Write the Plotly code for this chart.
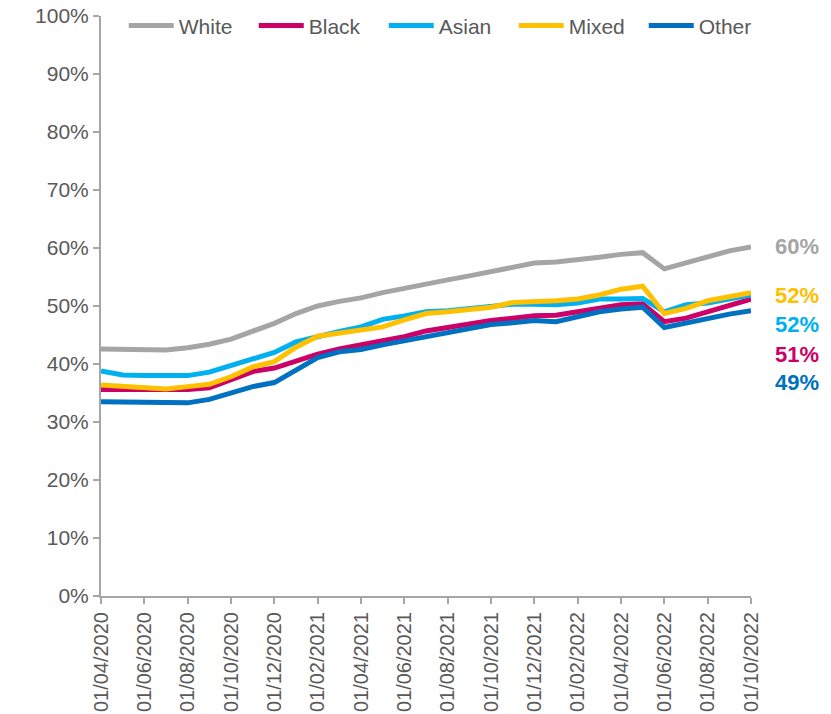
import plotly.graph_objects as go

months = ["01/04/2020","01/05/2020","01/06/2020","01/07/2020","01/08/2020","01/09/2020",
          "01/10/2020","01/11/2020","01/12/2020","01/01/2021","01/02/2021","01/03/2021",
          "01/04/2021","01/05/2021","01/06/2021","01/07/2021","01/08/2021","01/09/2021",
          "01/10/2021","01/11/2021","01/12/2021","01/01/2022","01/02/2022","01/03/2022",
          "01/04/2022","01/05/2022","01/06/2022","01/07/2022","01/08/2022","01/09/2022",
          "01/10/2022"]

white = [42.6,42.6,42.5,42.4,42.8,43.4,44.3,45.7,47.0,48.7,50.0,50.8,51.4,52.3,53.1,53.7,
         54.5,55.2,55.9,56.5,57.4,57.6,57.9,58.4,58.9,59.2,56.4,57.4,58.5,59.5,60.2]
black = [35.6,35.6,35.5,35.5,35.6,35.9,37.2,38.7,39.3,40.6,41.7,42.6,43.4,44.0,44.7,45.7,
         46.3,47.0,47.5,47.9,48.3,48.4,49.0,49.8,50.2,50.4,47.3,47.9,49.0,50.2,51.2]
asian = [38.8,38.1,38.0,37.9,38.0,38.6,39.7,41.0,42.0,43.8,44.8,45.6,46.4,47.7,48.3,49.0,
         49.2,49.6,50.1,50.3,50.3,50.2,50.5,51.2,51.2,51.3,49.0,50.2,50.5,51.3,51.9]
mixed = [36.4,36.2,35.9,35.7,36.1,36.5,37.8,39.5,40.4,42.9,44.8,45.3,45.7,46.4,47.6,48.7,
         49.0,49.3,49.8,50.6,50.7,50.9,51.2,51.9,52.9,53.4,48.7,49.6,50.9,51.6,52.3]
other = [33.5,33.4,33.3,33.2,33.3,33.9,34.9,36.1,36.8,39.0,41.1,42.1,42.5,43.3,44.0,44.8,
         45.6,46.3,46.8,47.1,47.5,47.3,48.1,49.0,49.5,49.8,46.3,47.1,47.7,48.6,49.2]

series_names = ["White", "Black", "Asian", "Mixed", "Other"]
series_values = [white, black, asian, mixed, other]
colors = ["#A5A5A5", "#CC0066", "#00B0F0", "#FFC000", "#0070C0"]
end_labels = ["60%", "51%", "52%", "52%", "49%"]
label_yshift = [0, -55, -30, -3, -72]

font_family = "Arial, Liberation Sans, sans-serif"
text_color = "#595959"

fig = go.Figure()
for name, vals, col in zip(series_names, series_values, colors):
    fig.add_trace(go.Scatter(
        x=months, y=[v / 100 for v in vals], mode="lines", name=name,
        line=dict(color=col, width=5),
    ))

for name, vals, col, lab, ys in zip(series_names, series_values, colors, end_labels, label_yshift):
    fig.add_annotation(
        x=months[-1], y=vals[-1] / 100, text=f"<b>{lab}</b>", showarrow=False,
        xanchor="left", yanchor="middle", xshift=22, yshift=ys,
        font=dict(family=font_family, size=22, color=col),
    )

fig.update_layout(
    width=823, height=706,
    margin=dict(l=93, r=80, t=8, b=118, autoexpand=False),
    paper_bgcolor="white", plot_bgcolor="white",
    font=dict(family=font_family, color=text_color, size=21),
    showlegend=True,
    legend=dict(
        orientation="h", x=0.035, y=0.983, xanchor="left", yanchor="middle",
        font=dict(family=font_family, size=21, color=text_color),
        bgcolor="rgba(0,0,0,0)", itemwidth=45,
        entrywidth=70, entrywidthmode="pixels",
    ),
)

fig.update_xaxes(
    type="category", range=[0, len(months) - 1],
    tickmode="array", tickvals=months[::2], ticktext=months[::2],
    tickangle=-90, showgrid=False, ticklabeloverflow="allow",
    showline=True, linecolor="#A6A6A6", linewidth=2,
    ticks="outside", ticklen=6, tickcolor="#A6A6A6", tickwidth=2,
    tickfont=dict(family=font_family, size=20, color=text_color),
)
fig.update_yaxes(
    range=[0, 1], dtick=0.1, tickformat=".0%", showgrid=False,
    ticklabeloverflow="allow",
    showline=True, linecolor="#A6A6A6", linewidth=2,
    ticks="outside", ticklen=6, tickcolor="#A6A6A6", tickwidth=2,
    tickfont=dict(family=font_family, size=21, color=text_color),
    zeroline=False,
)

fig.write_html("out.html")
